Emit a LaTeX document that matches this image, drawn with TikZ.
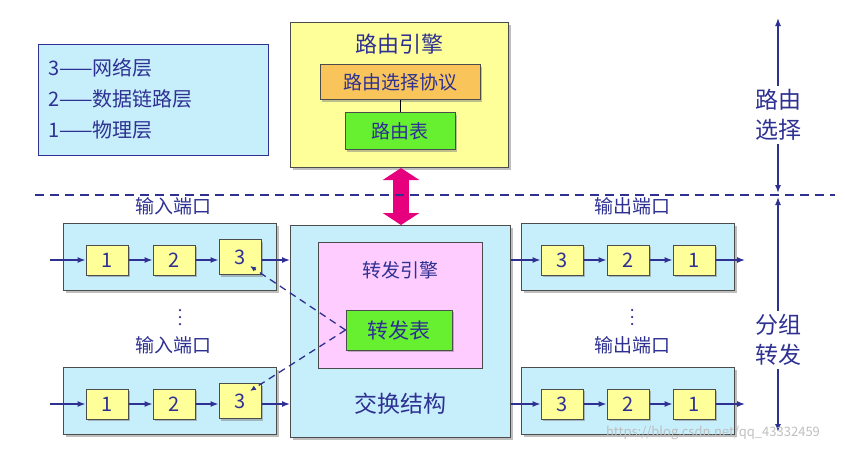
\documentclass[tikz,border=0pt]{standalone}
\usepackage{fontspec}
\setmainfont{Noto Sans CJK SC}
\usetikzlibrary{shadows,arrows.meta}
\definecolor{tb}{HTML}{2E3192}
\definecolor{cy}{HTML}{C6EEFB}
\definecolor{ye}{HTML}{FFFF99}
\definecolor{ora}{HTML}{F9C45A}
\definecolor{gr}{HTML}{66F030}
\definecolor{pk}{HTML}{FFCCFF}
\definecolor{mg}{HTML}{E6007E}
\tikzset{
 box/.style={draw=black!70,line width=1pt,drop shadow={shadow xshift=2pt,shadow yshift=-2pt,fill=black!50}},
 port/.style={box,fill=cy,line width=1.3pt},
 sm/.style={box,fill=ye,minimum width=42pt,minimum height=30pt,inner sep=0pt,font=\fontsize{20}{20}\selectfont,text=tb},
 lab/.style={text=tb,font=\fontsize{19}{20}\selectfont},
 ar/.style={-{Latex[length=8pt,width=6pt]},tb,line width=1.3pt},
 dot/.style={circle,fill=tb,inner sep=0pt,minimum size=2.5pt},
}
\begin{document}
\begin{tikzpicture}[x=1pt,y=-1pt]
\useasboundingbox (0,0) rectangle (845,451);
% legend
\node[draw=tb,line width=1pt,fill=cy,minimum width=230pt,minimum height=111pt,anchor=north west,inner sep=0pt] (leg) at (38,44) {};
\node[lab,anchor=west,align=left,font=\fontsize{20}{31}\selectfont,inner sep=0pt] (legt) at (48,99) {3——网络层\\2——数据链路层\\1——物理层};
% routing engine
\node[box,fill=ye,minimum width=218pt,minimum height=145pt,anchor=north west,inner sep=0pt] (re) at (290,22) {};
\node[lab,font=\fontsize{22}{22}\selectfont] (ret) at (399,44) {路由引擎};
\node[box,fill=ora,minimum width=160pt,minimum height=35pt,inner sep=0pt,lab] (rp) at (400,82) {路由选择协议};
\node[box,fill=gr,minimum width=110pt,minimum height=37pt,inner sep=0pt,lab] (rt) at (400,131) {路由表};
\draw[line width=1pt] (rp) -- (rt);
% magenta double arrow
\coordinate (ma) at (401,168);
\coordinate (mb) at (401,225);
\draw[mg,line width=16pt,{Triangle[length=12pt,width=36pt]}-{Triangle[length=12pt,width=36pt]}] (ma) -- (mb);
% dashed line
\coordinate (d1) at (35,195); \coordinate (d2) at (835,195);
\draw[tb,dashed,dash pattern=on 9pt off 6pt,line width=1.3pt] (d1) -- (d2);
% right arrows
\node[lab,font=\fontsize{23}{30}\selectfont,align=center] (rs) at (778,115) {路由\\选择};
\node[lab,font=\fontsize{23}{30}\selectfont,align=center] (fw) at (778,340) {分组\\转发};
\coordinate (t1) at (778,18); \coordinate (t2) at (778,193); \coordinate (b1) at (778,197); \coordinate (b2) at (778,432);
\draw[ar] (rs.north) -- (t1);
\draw[ar] (rs.south) -- (t2);
\draw[ar] (fw.north) -- (b1);
\draw[ar] (fw.south) -- (b2);
% switch fabric
\node[box,fill=cy,minimum width=220pt,minimum height=212pt,anchor=north west,inner sep=0pt] (sw) at (290,225) {};
\node[draw=black!70,line width=1pt,fill=pk,minimum width=164pt,minimum height=126pt,anchor=north west,inner sep=0pt] (fe) at (318,242) {};
\node[lab] (fet) at (400,270) {转发引擎};
\node[box,fill=gr,minimum width=106pt,minimum height=40pt,inner sep=0pt,lab,font=\fontsize{21}{21}\selectfont] (ft) at (399,330) {转发表};
\node[lab,font=\fontsize{23}{23}\selectfont] (swt) at (400,404) {交换结构};
% ports
\foreach \n/\y in {a/257,b/401}{
 \node[port,minimum width=213pt,minimum height=67pt,inner sep=0pt] (in\n) at (170,\y) {};
 \node[sm] (i1\n) at (107,\y+3) {1};
 \node[sm] (i2\n) at (174,\y+3) {2};
 \node[sm,minimum height=35pt] (i3\n) at (240,\y) {3};
 \coordinate (s\n) at (50,\y+3);
 \draw[ar] (s\n) -- (i1\n);
 \draw[ar] (i1\n) -- (i2\n);
 \draw[ar] (i2\n) -- (i3\n.west|-i2\n);
 \draw[ar] (i3\n.east|-i2\n) -- (sw.west|-i2\n);
 \node[port,minimum width=213pt,minimum height=67pt,inner sep=0pt] (out\n) at (628,\y) {};
 \node[sm] (o3\n) at (562,\y+3) {3};
 \node[sm] (o2\n) at (628,\y+3) {2};
 \node[sm] (o1\n) at (694,\y+3) {1};
 \coordinate (e\n) at (745,\y+3);
 \draw[ar] (sw.east|-o3\n) -- (o3\n);
 \draw[ar] (o3\n) -- (o2\n);
 \draw[ar] (o2\n) -- (o1\n);
 \draw[ar] (o1\n) -- (e\n);
}
\node[lab] (l1) at (173,206) {输入端口};
\node[lab] (l2) at (173,345) {输入端口};
\node[lab] (l3) at (632,206) {输出端口};
\node[lab] (l4) at (632,345) {输出端口};
\foreach \x/\k in {180/a,632/b}{
 \node[dot] (da\k) at (\x,310) {};
 \node[dot] (db\k) at (\x,317) {};
 \node[dot] (dc\k) at (\x,324) {};
}
% dashed links
\coordinate (ca) at (250,266); \coordinate (cb) at (250,391);
\draw[tb,dashed,line width=1.3pt,dash pattern=on 7pt off 5pt,-{Latex[length=6pt,width=5pt]}] (ft.west) -- (ca);
\draw[tb,dashed,line width=1.3pt,dash pattern=on 7pt off 5pt,-{Latex[length=6pt,width=5pt]}] (ft.west) -- (cb);
\node[text=black!25,font=\fontsize{13}{13}\selectfont] (wm) at (713,433) {https://blog.csdn.net/qq\_43332459};
\end{tikzpicture}
\end{document}
